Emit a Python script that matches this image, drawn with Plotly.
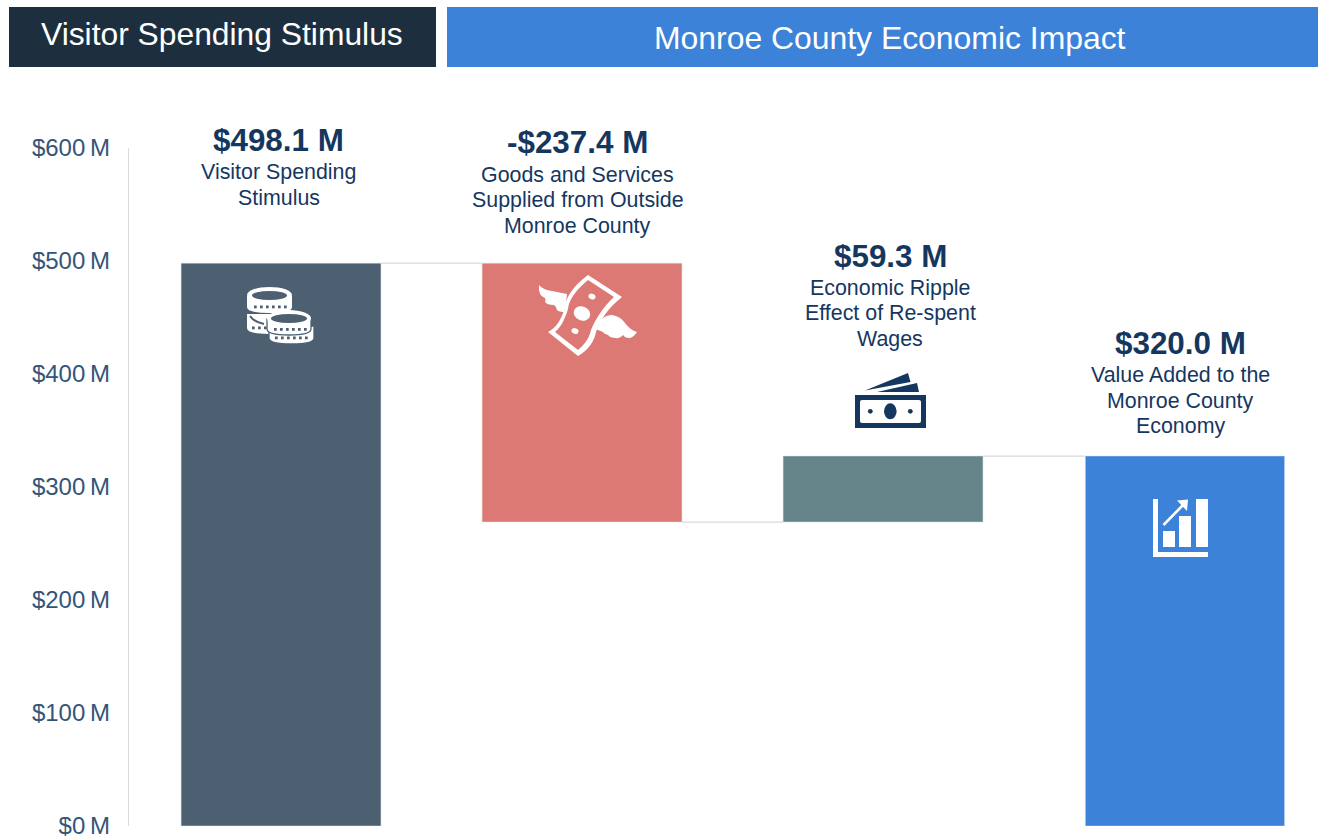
import base64
import plotly.graph_objects as go

categories = ["Visitor Spending Stimulus", "Goods and Services Supplied", "Re-spent Wages", "Value Added"]
bar_pos = [0, 1, 2, 3.003]
bar_width = [0.664, 0.664, 0.664, 0.662]
bar_base = [0, 269, 269, 0]
bar_height = [498.1, 229.1, 58.4, 327.4]
bar_colors = ["#4D6072", "#DD7975", "#66858B", "#3B82D8"]
y_ticks = [0, 100, 200, 300, 400, 500, 600]
y_labels = ["$0\u2009M", "$100\u2009M", "$200\u2009M", "$300\u2009M", "$400\u2009M", "$500\u2009M", "$600\u2009M"]
value_labels = ["$498.1 M", "-$237.4 M", "$59.3 M", "$320.0 M"]
desc_labels = [
    ["Visitor Spending", "Stimulus"],
    ["Goods and Services", "Supplied from Outside", "Monroe County"],
    ["Economic Ripple", "Effect of Re-spent", "Wages"],
    ["Value Added to the", "Monroe County", "Economy"],
]
header_left = "Visitor Spending Stimulus"
header_right = "Monroe County Economic Impact"

W, H = 1318, 838
L, T, B = 129, 148, 826
NAVY = "#15375F"
FONT = "Liberation Sans"
px = lambda x: (x - L) / (W - L)
py = lambda y: (B - y) / (B - T)

label_pos = [(278.5, 140), (577.5, 142), (890, 256), (1180, 343)]
line_offsets = [[32, 58], [33, 58, 84], [32, 57, 83], [32, 58, 83]]

# Icons: SVG drawn in page pixel coordinates
BG = "#4D6072"
RED = "#DD7975"


def dots(xs, y, c):
    return "".join(f'<rect x="{x}" y="{y}" width="2.7" height="2.8" fill="{c}"/>' for x in xs)


def coin_body(x0, x1, y0, y1, c="white", edge=None):
    mid = (x0 + x1) / 2
    stroke = f' stroke="{edge}" stroke-width="1.3"' if edge else ""
    return (f'<path d="M{x0} {y0}V{y1-6}Q{x0} {y1} {mid} {y1}Q{x1} {y1} {x1} {y1-6}V{y0}Z" fill="{c}"{stroke}/>')


coins_svg = (
    coin_body(247, 291, 314, 334)
    + f'<path d="M250 316q4 6 14 8" stroke="{BG}" stroke-width="2" fill="none"/>'
    + dots([252, 258, 264], 326.5, BG)
    + coin_body(247, 292, 296, 313)
    + '<ellipse cx="269.5" cy="295" rx="22.5" ry="8" fill="white"/>'
    + f'<ellipse cx="269.5" cy="295.5" rx="17.5" ry="4.6" fill="{BG}"/>'
    + dots([254, 260, 266, 272, 278, 284], 305.5, BG)
    + coin_body(269, 314, 326, 344, edge=BG)
    + dots([275, 281, 287, 293, 299, 305], 336.5, BG)
    + coin_body(267, 311, 319, 335, edge=BG)
    + '<ellipse cx="289" cy="318.5" rx="22" ry="8.5" fill="white"/>'
    + f'<ellipse cx="289" cy="318.5" rx="18" ry="4.6" fill="{BG}"/>'
    + dots([274, 280, 286, 292, 298, 304], 328, BG)
)
bill_svg = (
    '<path d="M588 275L622 297C609 307 600 320 596 332C594 342 588 350 578 356L548 332'
    'C556 328 561 320 564 310C565 298 574 285 588 275Z" fill="white"/>'
    f'<path d="M588 280L614 297C604 306 596 318 591 330C589 339 584 345 578 350L555 332'
    f'C561 327 565 319 568 309C569 299 577 289 588 280Z" fill="{RED}"/>'
    '<ellipse cx="582" cy="313.5" rx="8.5" ry="7" transform="rotate(25 582 313.5)" fill="white"/>'
    '<ellipse cx="592" cy="296.5" rx="3.6" ry="2.8" transform="rotate(25 592 296.5)" fill="white"/>'
    '<ellipse cx="575" cy="331" rx="3.6" ry="2.8" transform="rotate(25 575 331)" fill="white"/>'
    '<path d="M539 285Q543 290 552 291L567 294L565 312Q559 312 557 310Q556 306 554 305Q547 305 545 302'
    'Q546 299 545 298Q538 296 539 285Z" fill="white"/>'
    '<path d="M598 323Q604 315 612 315Q620 316 625 323Q630 330 637 332Q633 338 629 338Q625 338 623 335'
    'Q620 339 616 338Q610 338 608 335Q604 334 603 332L593 328Z" fill="white"/>'
)
cash_svg = (
    f'<path d="M855 395H926V428H855ZM862 400Q860 400 860 402V421Q860 423 862 423H919Q921 423 921 421V402Q921 400 919 400Z" fill="{NAVY}" fill-rule="evenodd"/>'
    f'<ellipse cx="890.3" cy="411.3" rx="6.3" ry="8" fill="{NAVY}"/>'
    f'<circle cx="870.3" cy="411.3" r="2.4" fill="{NAVY}"/><circle cx="910.3" cy="411.3" r="2.4" fill="{NAVY}"/>'
    f'<path d="M865 390.6L908 373L910.5 382Z" fill="{NAVY}"/>'
    f'<path d="M877 392L917 383L919 392Z" fill="{NAVY}"/>'
)
chart_svg = (
    '<path d="M1153 499H1158V552H1208V557H1153Z" fill="white"/>'
    '<rect x="1163" y="531" width="12" height="16" fill="white"/>'
    '<rect x="1179" y="516" width="12" height="31" fill="white"/>'
    '<rect x="1196" y="499" width="12" height="48" fill="white"/>'
    '<path d="M1163.5 525L1185 503" stroke="white" stroke-width="2.6"/>'
    '<path d="M1177 500.5L1188 499.5L1187 511Z" fill="white"/>'
)
icons = [
    (coins_svg, 244, 284, 72, 64),
    (bill_svg, 535, 272, 106, 88),
    (cash_svg, 852, 370, 78, 62),
    (chart_svg, 1150, 496, 62, 64),
]


def svg_uri(body, x, y, w, h):
    s = f'<svg xmlns="http://www.w3.org/2000/svg" width="{w*3}" height="{h*3}" viewBox="{x} {y} {w} {h}">{body}</svg>'
    return "data:image/svg+xml;base64," + base64.b64encode(s.encode()).decode()


images = [
    dict(source=svg_uri(b, x, y, w, h), xref="paper", yref="paper", x=px(x), y=py(y),
         sizex=w / (W - L), sizey=h / (B - T), xanchor="left", yanchor="top", sizing="stretch", layer="above")
    for b, x, y, w, h in icons
]

fig = go.Figure(go.Bar(
    x=bar_pos, y=bar_height, base=bar_base, width=bar_width,
    marker=dict(color=bar_colors, line=dict(color="#D9DEE3", width=0.5)),
    customdata=categories, hovertemplate="%{customdata}<extra></extra>", showlegend=False,
))

tops = [b + h for b, h in zip(bar_base, bar_height)]
conn_levels = [tops[0], bar_base[1], tops[2]]
shapes = [
    dict(type="line", xref="x", yref="y", x0=bar_pos[i] + bar_width[i] / 2, x1=bar_pos[i + 1] - bar_width[i + 1] / 2,
         y0=v, y1=v, line=dict(color="#D9D9D9", width=1.25))
    for i, v in enumerate(conn_levels)
]
for x0, x1, c in [(9, 436, "#1D2F3F"), (447, 1318, "#3B82D8")]:
    shapes.append(dict(type="rect", xref="paper", yref="paper", x0=px(x0), x1=px(x1), y0=py(67), y1=py(7),
                       fillcolor=c, line=dict(width=0), layer="above"))

annotations = []


def note(x, y, text, size, color, bold=False):
    annotations.append(dict(xref="paper", yref="paper", x=px(x), y=py(y), text=f"<b>{text}</b>" if bold else text,
                            showarrow=False, xanchor="center", yanchor="middle",
                            font=dict(family=FONT, size=size, color=color)))


note(222, 34, header_left, 31.8, "white")
note(890, 38, header_right, 31.9, "white")
for (cx, cy), val, lines, offs in zip(label_pos, value_labels, desc_labels, line_offsets):
    note(cx, cy, val, 31.4, NAVY, bold=True)
    for line, o in zip(lines, offs):
        note(cx, cy + o, line, 21.4, NAVY)

fig.update_layout(
    width=W, height=H, margin=dict(l=L, r=0, t=T, b=H - B, pad=0),
    paper_bgcolor="white", plot_bgcolor="white", showlegend=False,
    shapes=shapes, annotations=annotations, images=images,
    xaxis=dict(range=[-0.505, 3.445], showgrid=False, zeroline=False, showticklabels=False, showline=False, ticks=""),
    yaxis=dict(range=[0, 600], tickvals=y_ticks, ticktext=y_labels, showgrid=False, zeroline=False,
               showline=True, linecolor="#D9D9D9", linewidth=1.25, ticks="outside", ticklen=13,
               tickcolor="rgba(0,0,0,0)", ticklabeloverflow="allow",
               tickfont=dict(family=FONT, size=24, color="#34557A")),
)
fig.write_html("out.html", config={"displayModeBar": False},
               post_script="document.body.style.margin='0';document.body.style.overflow='hidden';")
